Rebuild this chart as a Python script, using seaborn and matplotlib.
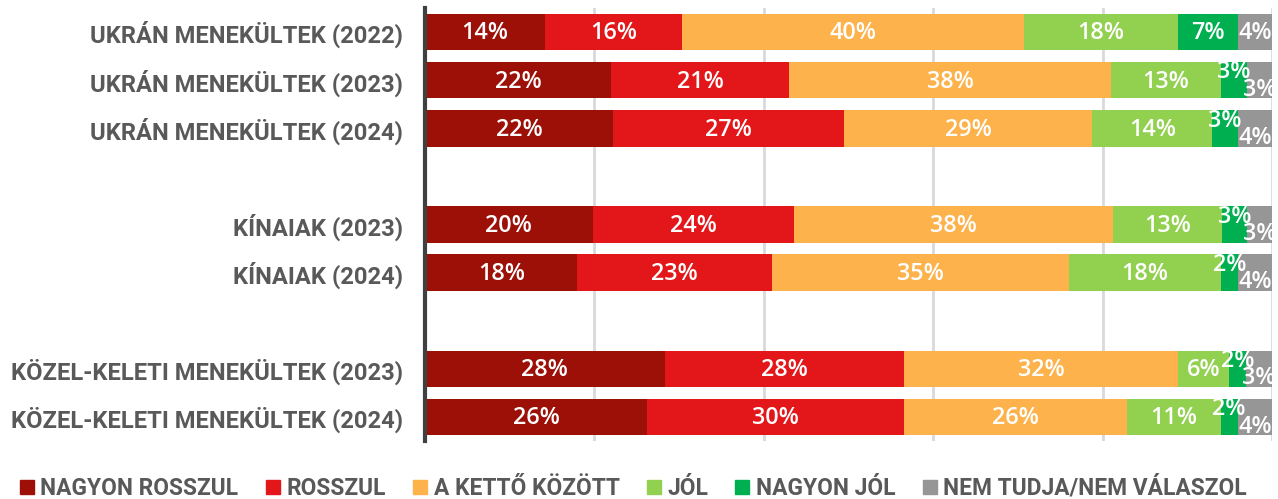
import numpy as np
import pandas as pd
import seaborn as sns
import matplotlib.pyplot as plt
from matplotlib.lines import Line2D


# categories (empty strings are the blank spacer rows)
categories = [
    'UKRÁN MENEKÜLTEK (2022)', 'UKRÁN MENEKÜLTEK (2023)', 'UKRÁN MENEKÜLTEK (2024)',
    '', 'KÍNAIAK (2023)', 'KÍNAIAK (2024)',
    ' ', 'KÖZEL-KELETI MENEKÜLTEK (2023)', 'KÖZEL-KELETI MENEKÜLTEK (2024)']

answers = ['NAGYON ROSSZUL', 'ROSSZUL', 'A KETTŐ KÖZÖTT', 'JÓL', 'NAGYON JÓL',
           'NEM TUDJA/NEM VÁLASZOL']

nagyon_rosszul = [14, 22, 22, np.nan, 20, 18, np.nan, 28, 26]
rosszul = [16, 21, 27, np.nan, 24, 23, np.nan, 28, 30]
a_ketto_kozott = [40, 38, 29, np.nan, 38, 35, np.nan, 32, 26]
jol = [18, 13, 14, np.nan, 13, 18, np.nan, 6, 11]
nagyon_jol = [7, 3, 3, np.nan, 3, 2, np.nan, 2, 2]
nem_tudja = [4, 3, 4, np.nan, 3, 4, np.nan, 3, 4]

colors = ['#9C1007', '#E3171A', '#FDB24C', '#92D050', '#00B050', '#969696']

"""
build the table: 100% stacked, so each row is scaled to sum to 100
"""
vals = np.array([nagyon_rosszul, rosszul, a_ketto_kozott, jol, nagyon_jol, nem_tudja]).T
share = vals / np.nansum(vals, axis=1, keepdims=True) * 100
cum = np.nancumsum(share, axis=1)
cum[np.isnan(vals)] = 0

df = pd.DataFrame(cum, columns=answers)
df['cat'] = categories

"""
draw
"""
sns.set_style('white')
plt.rcParams['font.family'] = ['Roboto', 'DejaVu Sans']

fig = plt.figure(figsize=(12.78, 4.99), dpi=100)
ax = fig.add_axes([425 / 1278, 1 - 441 / 499, 847 / 1278, 433 / 499])

for x in [20, 40, 60, 80, 100]:
    ax.axvline(x, color='#D9D9D9', lw=2, zorder=0)

# draw cumulative layers from the largest down so each covers the previous
for j in range(len(answers) - 1, -1, -1):
    sns.barplot(data=df, x=answers[j], y='cat', order=categories, color=colors[j],
                width=0.76, saturation=1, linewidth=0, ax=ax, zorder=2)

# data labels
for i in range(len(categories)):
    if np.isnan(vals[i, 0]):
        continue
    small = vals[i, 4] < 5
    for j in range(len(answers)):
        left = cum[i, j] - share[i, j]
        xc = left + share[i, j] / 2
        yc = i + 0.03
        if small and j == 4:
            yc = i - 0.16
        if small and j == 5:
            yc = i + 0.2
        ax.text(xc, yc, f'{int(vals[i, j])}%', ha='center', va='center',
                color='white', fontsize=16.8, fontweight='semibold', zorder=3,
                family=['Open Sans', 'DejaVu Sans'], clip_on=False)

ax.set_xlim(0, 100)
ax.set_xlabel('')
ax.set_ylabel('')
ax.set_xticks([])
ax.tick_params(axis='y', length=0, pad=16)
for lab in ax.get_yticklabels():
    lab.set_fontsize(17.1)
    lab.set_fontweight('bold')
    lab.set_color('#595959')
for s in ['top', 'right', 'bottom']:
    ax.spines[s].set_visible(False)
ax.spines['left'].set_color('#404040')
ax.spines['left'].set_linewidth(3)
ax.spines['left'].set_zorder(4)

# legend
handles = [Line2D([], [], marker='s', ls='', markersize=9.5, color=c) for c in colors]
leg = fig.legend(handles, answers, loc='center', bbox_to_anchor=(0.4957, 0.022), ncol=6,
                 frameon=False, fontsize=16.4, handletextpad=0.3, columnspacing=1.2,
                 handlelength=0.6, borderpad=0)
for t in leg.get_texts():
    t.set_color('#595959')
    t.set_fontweight('bold')

fig.savefig('out.png', dpi=100)
